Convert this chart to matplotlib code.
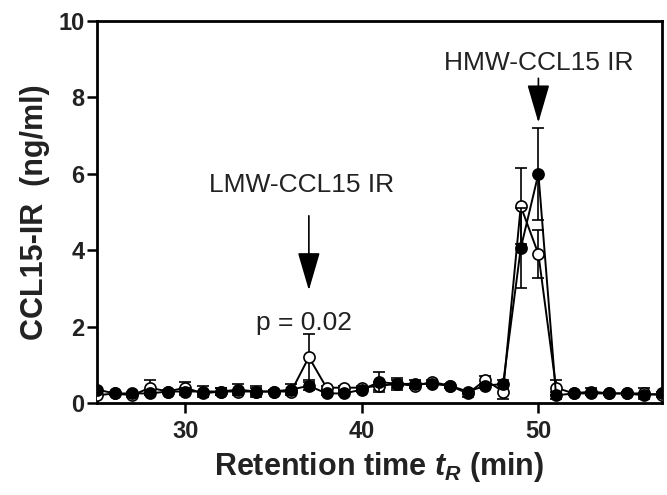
import numpy as np
import matplotlib
matplotlib.use('Agg')
import matplotlib.pyplot as plt

plt.rcParams['font.family'] = ['Liberation Sans', 'DejaVu Sans']
plt.rcParams['mathtext.fontset'] = 'custom'
plt.rcParams['mathtext.it'] = 'Liberation Sans:bold:italic'
plt.rcParams['mathtext.rm'] = 'Liberation Sans:bold'

## data (fractions 25..57 min)
t_min = list(range(25, 58))
filled_vals = [0.35, 0.25, 0.25, 0.25, 0.30, 0.30, 0.30, 0.30, 0.35, 0.30,
               0.30, 0.35, 0.45, 0.25, 0.25, 0.35, 0.55, 0.50, 0.50, 0.50,
               0.45, 0.30, 0.45, 0.50, 4.05, 6.00, 0.20, 0.25, 0.25, 0.25,
               0.25, 0.20, 0.25]
filled_err = [0.05, 0.05, 0.05, 0.05, 0.05, 0.10, 0.15, 0.10, 0.15, 0.10,
              0.05, 0.15, 0.10, 0.05, 0.05, 0.05, 0.25, 0.15, 0.10, 0.05,
              0.05, 0.05, 0.05, 0.10, 1.05, 1.20, 0.10, 0.05, 0.05, 0.05,
              0.05, 0.05, 0.05]
open_vals = [0.20, 0.25, 0.20, 0.40, 0.30, 0.40, 0.25, 0.30, 0.30, 0.30,
             0.30, 0.30, 1.20, 0.40, 0.40, 0.40, 0.45, 0.50, 0.45, 0.55,
             0.45, 0.25, 0.60, 0.30, 5.15, 3.90, 0.40, 0.25, 0.30, 0.25,
             0.25, 0.25, 0.20]
open_err = [0.05, 0.05, 0.05, 0.20, 0.05, 0.15, 0.05, 0.10, 0.05, 0.15,
            0.05, 0.05, 0.60, 0.05, 0.05, 0.05, 0.10, 0.10, 0.05, 0.05,
            0.05, 0.10, 0.10, 0.20, 1.00, 0.63, 0.20, 0.05, 0.10, 0.05,
            0.05, 0.15, 0.05]

fig = plt.figure(figsize=(6.67, 4.95), dpi=100)
ax = fig.add_axes([0.1454, 0.1859, 0.8471, 0.7717])

ax.errorbar(t_min, open_vals, yerr=open_err, fmt='-o', color='black',
            mfc='white', mec='black', ms=8, mew=1.2, lw=1.4,
            capsize=4, elinewidth=1.2, capthick=1.2, zorder=3)
ax.errorbar(t_min, filled_vals, yerr=filled_err, fmt='-o', color='black',
            mfc='black', mec='black', ms=8, mew=1.2, lw=1.4,
            capsize=4, elinewidth=1.2, capthick=1.2, zorder=4)

ax.set_xlim(25, 57)
ax.set_ylim(0, 10)
ax.set_xticks([30, 40, 50])
ax.set_yticks([0, 2, 4, 6, 8, 10])
for sp in ax.spines.values():
    sp.set_linewidth(2)
ax.tick_params(direction='out', length=7, width=1.8, labelsize=17)
ax.tick_params(axis='x', pad=5)
ax.tick_params(axis='y', pad=2)
for lab in ax.get_xticklabels() + ax.get_yticklabels():
    lab.set_fontweight('bold')
    lab.set_color('#222222')

ax.set_xlabel('Retention time $t_R$ (min)', fontsize=22, fontweight='bold',
              color='#222222', labelpad=5)
ax.set_ylabel('CCL15-IR  (ng/ml)', fontsize=22, fontweight='bold',
              color='#222222', labelpad=6)

# annotations
arr = dict(arrowstyle='-|>,head_length=1.2,head_width=0.35', lw=1.2,
           color='black', shrinkA=0, shrinkB=0, mutation_scale=20)
ax.text(50, 8.9, 'HMW-CCL15 IR', ha='center', va='center', fontsize=19,
        color='#222222')
ax.annotate('', xy=(50, 7.34), xytext=(50, 8.5), arrowprops=arr)
ax.text(36.6, 5.7, 'LMW-CCL15 IR', ha='center', va='center', fontsize=19,
        color='#222222')
ax.annotate('', xy=(37, 2.95), xytext=(37, 4.9), arrowprops=arr)
ax.text(36.7, 2.1, 'p = 0.02', ha='center', va='center', fontsize=19,
        color='#222222')

fig.savefig('out.png', dpi=100)
